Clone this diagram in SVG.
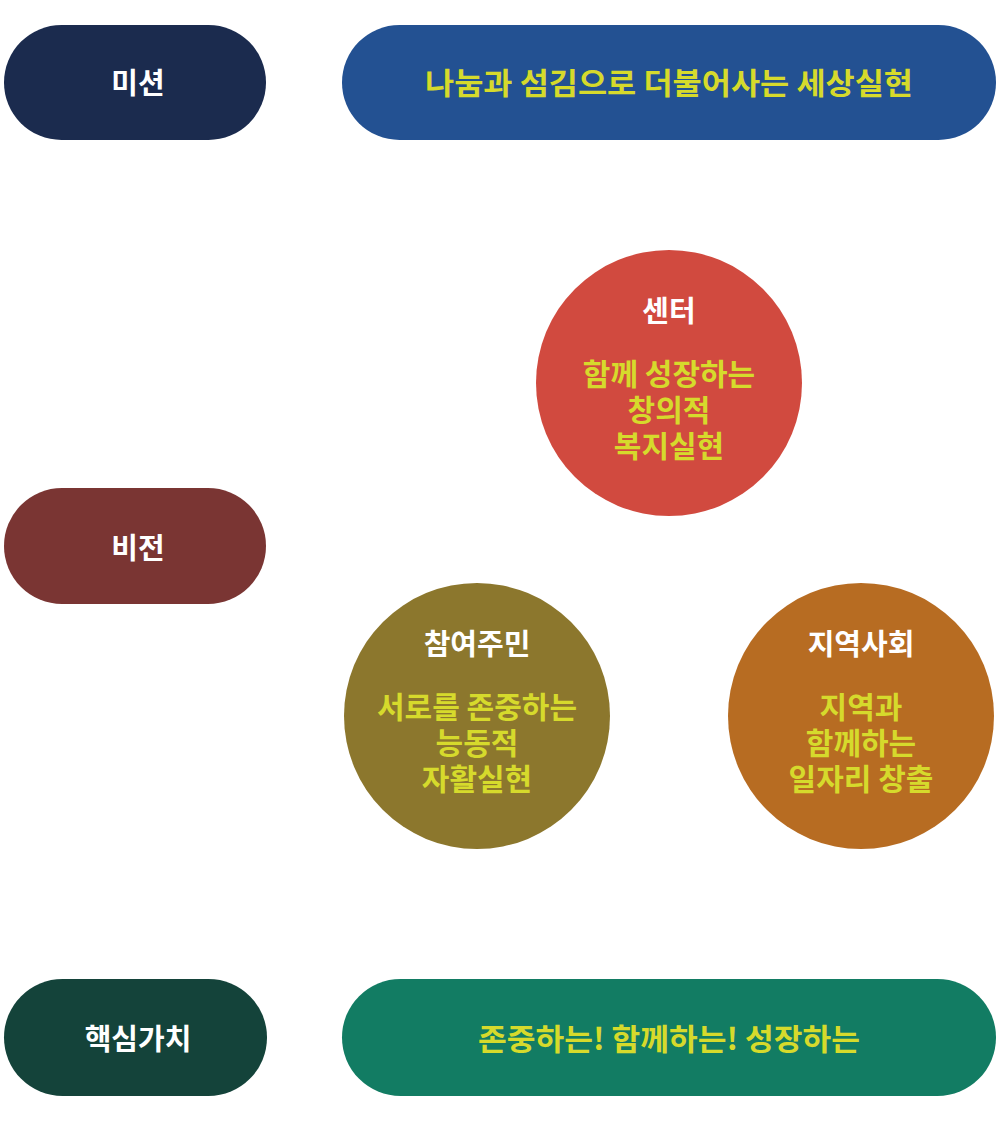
<svg xmlns="http://www.w3.org/2000/svg" width="1000" height="1133" viewBox="0 0 1000 1133">
<style>
text{font-family:"Noto Sans CJK KR","Noto Sans",sans-serif;font-weight:700;text-anchor:middle;dominant-baseline:central}
.w{fill:#ffffff;font-size:29px}
.y{fill:#d6da2c;font-size:30px}
</style>
<rect width="1000" height="1133" fill="#ffffff"/>
<g id="connectors"></g>
<g id="mission-label"><rect x="4" y="25" width="262" height="115" rx="57.5" fill="#1b2b4e"/><text class="w" x="138" y="81">미션</text></g>
<g id="mission"><rect x="342" y="25" width="654" height="115" rx="57.5" fill="#235192"/><text class="y" x="669" y="81" textLength="488" lengthAdjust="spacingAndGlyphs">나눔과 섬김으로 더불어사는 세상실현</text></g>
<g id="vision-label"><rect x="4" y="488" width="262" height="116" rx="58" fill="#7a3533"/><text class="w" x="138" y="546">비전</text></g>
<g id="center"><circle cx="669" cy="383" r="133" fill="#d14a3f"/><text class="w" x="669" y="309">센터</text><text class="y" x="669" y="372">함께 성장하는</text><text class="y" x="669" y="408">창의적</text><text class="y" x="669" y="444">복지실현</text></g>
<g id="residents"><circle cx="477" cy="716" r="133" fill="#8c772d"/><text class="w" x="477" y="642">참여주민</text><text class="y" x="477" y="705">서로를 존중하는</text><text class="y" x="477" y="741">능동적</text><text class="y" x="477" y="777">자활실현</text></g>
<g id="community"><circle cx="861" cy="716" r="133" fill="#b76c22"/><text class="w" x="861" y="642">지역사회</text><text class="y" x="861" y="705">지역과</text><text class="y" x="861" y="741">함께하는</text><text class="y" x="861" y="777">일자리 창출</text></g>
<g id="values-label"><rect x="4" y="979" width="263" height="117" rx="58.5" fill="#14433a"/><text class="w" x="138" y="1037">핵심가치</text></g>
<g id="values"><rect x="342" y="979" width="654" height="117" rx="58.5" fill="#127c63"/><text class="y" x="669" y="1037" textLength="382" lengthAdjust="spacingAndGlyphs">존중하는! 함께하는! 성장하는</text></g>
</svg>
